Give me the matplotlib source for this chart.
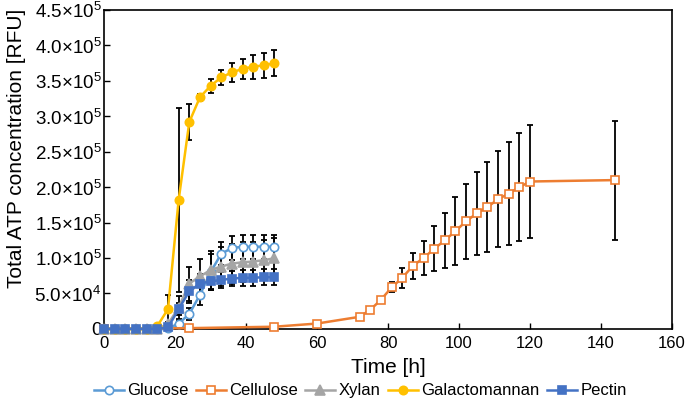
import matplotlib
matplotlib.use("Agg")
import matplotlib.pyplot as plt
from matplotlib.ticker import FuncFormatter
import numpy as np

plt.rcParams['font.family'] = ['Liberation Sans', 'DejaVu Sans']
plt.rcParams['mathtext.fontset'] = 'custom'
plt.rcParams['mathtext.rm'] = 'Liberation Sans'

# 取样时间 (h)
t_short = [0, 3, 6, 9, 12, 15, 18, 21, 24, 27, 30, 33, 36, 39, 42, 45, 48]

glucose = [0, 0, 0, 0, 0, 0, 500, 7500, 21000, 48000, 80000, 106000, 114000, 116000, 116000, 116000, 116000]
glucose_err = [0, 0, 0, 0, 0, 0, 0, 3000, 8000, 15000, 25000, 16000, 17000, 17000, 17000, 17000, 17000]

xylan = [0, 0, 0, 0, 0, 0, 6600, 30000, 64000, 74000, 83000, 88000, 92000, 94000, 95000, 97000, 99600]
xylan_err = [0, 0, 0, 0, 0, 0, 3000, 16000, 24000, 25000, 27000, 28000, 28000, 28000, 28000, 28000, 28000]

galacto = [0, 0, 0, 0, 0, 4000, 28000, 182000, 292000, 327000, 343000, 355000, 362000, 367000, 370000, 372000, 375000]
galacto_err = [0, 0, 0, 0, 0, 2000, 20000, 130000, 25000, 5000, 10000, 11000, 13000, 14000, 17000, 18000, 18000]

pectin = [0, 0, 0, 0, 0, 0, 2000, 28000, 53000, 64000, 67000, 69000, 71000, 72000, 72000, 73000, 73000]
pectin_err = [0, 0, 0, 0, 0, 0, 1000, 8000, 16000, 14000, 12000, 11000, 11000, 11000, 11000, 11000, 11000]

t_cell = [0, 24, 48, 60, 72, 75, 78, 81, 84, 87, 90, 93, 96, 99, 102, 105, 108, 111, 114, 117, 120, 144]
cellulose = [0, 1000, 3000, 7500, 17000, 27000, 41000, 58500, 72000, 89000, 100000, 113000, 125000,
             138000, 152000, 163000, 172000, 183000, 191000, 200000, 208000, 210000]
cellulose_err = [0, 0, 0, 0, 0, 0, 0, 7000, 14000, 18400, 24500, 32000, 39000, 48000, 53000, 59000,
                 63500, 68000, 73000, 76000, 80000, 84000]

series = [
    ("Glucose", t_short, glucose, glucose_err, "#5B9BD5", "o", "white"),
    ("Cellulose", t_cell, cellulose, cellulose_err, "#ED7D31", "s", "white"),
    ("Xylan", t_short, xylan, xylan_err, "#A5A5A5", "^", None),
    ("Galactomannan", t_short, galacto, galacto_err, "#FFC000", "o", None),
    ("Pectin", t_short, pectin, pectin_err, "#4472C4", "s", None),
]


def sci_fmt(v, pos):
    if v == 0:
        return "0"
    exp = int(np.floor(np.log10(v)))
    mant = v / 10 ** exp
    return "%.1f×10$^{\\mathrm{%d}}$" % (mant, exp)


fig = plt.figure(figsize=(6.85, 4.03), dpi=100)
ax = fig.add_axes([0.152, 0.184, 0.829, 0.791])

# 误差线先画，放在曲线下面
for name, t, y, e, c, m, fc in series:
    ax.errorbar(t, y, yerr=e, fmt="none", ecolor="black", elinewidth=1.3,
                capsize=2.5, capthick=1.3, zorder=2, clip_on=False)

for name, t, y, e, c, m, fc in series:
    ax.plot(t, y, color=c, marker=m, markersize=6 if m != "^" else 6.5,
            markerfacecolor=fc if fc else c, markeredgecolor=c, markeredgewidth=1.2,
            linewidth=1.8, label=name, zorder=3, clip_on=False)

ax.set_xlim(0, 160)
ax.set_ylim(0, 450000)
ax.set_xticks(range(0, 161, 20))
ax.set_yticks(np.arange(0, 450001, 50000))
ax.yaxis.set_major_formatter(FuncFormatter(sci_fmt))
ax.tick_params(direction="in", length=4, width=1)
ax.tick_params(axis="x", labelsize=12, pad=5)
ax.tick_params(axis="y", labelsize=13.5, pad=2)
for s in ax.spines.values():
    s.set_linewidth(1.2)

ax.set_xlabel("Time [h]", fontsize=15)
ax.set_ylabel("Total ATP concentration [RFU]", fontsize=15)
ax.xaxis.set_label_coords(0.5, -0.09)
ax.yaxis.set_label_coords(-0.137, 0.565)

fig.legend(*ax.get_legend_handles_labels(), loc="center", bbox_to_anchor=(0.526, 0.03),
           bbox_transform=fig.transFigure, ncol=5, frameon=False, fontsize=12,
           handlelength=1.8, handletextpad=0.2, columnspacing=0.45, borderpad=0)

fig.savefig("out.png", dpi=100)
